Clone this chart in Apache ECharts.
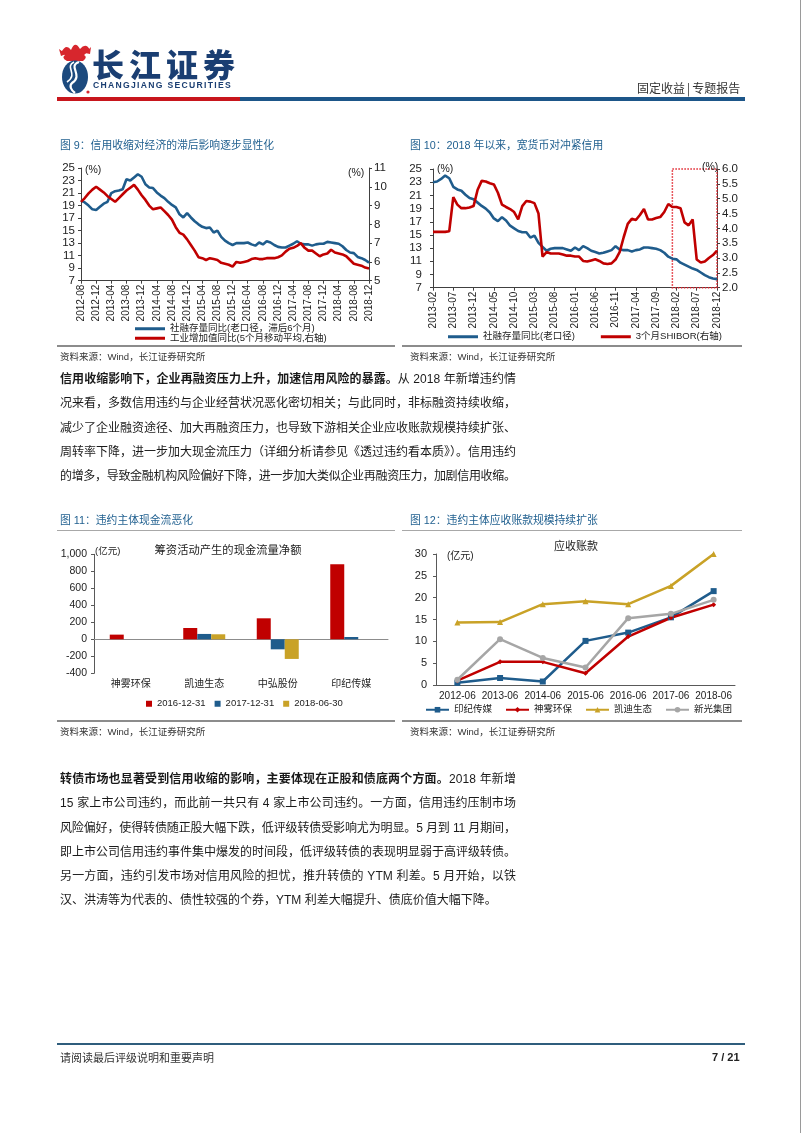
<!DOCTYPE html>
<html><head><meta charset="utf-8">
<script src="https://cdn.jsdelivr.net/npm/echarts@6/dist/echarts.min.js"></script>
<style>
html,body{margin:0;padding:0;background:#fff;}
#page{position:relative;width:802px;height:1133px;overflow:hidden;font-family:"Liberation Sans","Noto Sans CJK SC",sans-serif;color:#222;background:#fff;}
.t{position:absolute;white-space:nowrap;line-height:1;transform:translateY(-50%);}
.body{position:absolute;left:60px;white-space:nowrap;font-size:12px;line-height:16px;color:#1a1a1a;font-family:"Liberation Sans","Noto Sans CJK SC",sans-serif;}
.hl{position:absolute;}
#chart{position:absolute;left:0;top:0;width:802px;height:1133px;}
</style></head>
<body><div id="page"><div id="chart"></div></div>
<script>
// ---------------- DATA ----------------
function months(y, m, n){const a=[];for(let i=0;i<n;i++){a.push(y+'-'+String(m).padStart(2,'0'));m++;if(m>12){m=1;y++;}}return a;}
const c9Months = months(2012, 8, 77);
const c9Social = [19.8,19.5,19.0,18.4,18.3,18.8,19.3,19.6,21.0,21.3,
  21.4,21.6,23.2,23.0,23.5,24.0,23.6,22.4,21.9,21.8,
  21.1,20.6,20.2,19.6,19.1,18.7,17.6,17.1,17.8,17.1,
  16.5,16.0,15.6,15.4,15.5,14.7,15.0,14.0,13.4,13.0,
  12.7,13.0,13.0,13.0,13.1,12.8,12.6,13.1,12.8,13.3,
  13.1,12.7,12.4,12.3,12.3,12.6,12.9,13.3,12.9,12.8,
  12.8,12.6,12.8,12.9,12.9,13.2,13.1,13.0,12.9,12.5,
  11.9,11.5,11.4,10.8,10.6,10.3,9.9];
const c9Industry = [9.2,9.4,9.65,9.85,10.0,9.85,9.7,9.5,9.35,9.2,
  9.4,9.6,9.8,9.95,10.1,9.85,9.55,9.3,9.0,8.8,
  8.85,8.9,8.7,8.5,8.25,7.85,7.55,7.45,7.2,6.9,
  6.6,6.25,6.2,6.1,6.2,6.15,6.1,5.95,5.9,5.85,
  5.75,6.0,5.95,6.0,6.05,6.15,6.2,6.15,6.15,6.2,
  6.2,6.2,6.25,6.35,6.55,6.7,6.75,6.85,7.0,6.75,
  6.6,6.6,6.45,6.3,6.4,6.45,6.65,6.5,6.45,6.4,
  6.3,6.1,5.9,5.85,5.8,5.7,5.65];
const c9LeftTicks = [7,9,11,13,15,17,19,21,23,25];

const c10Months = months(2013, 2, 71);
const c10Social = [23.0,23.1,23.5,24.0,23.6,22.3,21.9,21.7,21.1,20.6,
  20.4,19.9,19.4,19.0,18.4,17.5,17.1,17.7,17.2,16.4,
  16.0,15.6,15.4,15.4,14.6,14.9,13.8,13.2,12.6,12.9,
  13.0,13.0,13.0,12.8,12.6,13.1,12.7,13.3,13.0,12.6,
  12.4,12.2,12.3,12.5,12.7,13.3,12.8,12.7,12.7,12.5,
  12.7,12.8,13.1,13.1,13.0,12.9,12.7,12.3,11.7,11.4,
  11.3,10.8,10.5,10.2,9.9,9.7,9.3,8.9,8.6,8.4,8.3];
const c10Shibor = [3.88,3.88,3.88,3.88,3.9,5.05,4.8,4.68,4.68,4.7,
  4.75,5.3,5.6,5.58,5.52,5.48,5.2,4.8,4.72,4.65,
  4.55,4.3,4.75,4.92,4.9,4.85,4.5,3.05,3.2,3.15,
  3.15,3.15,3.12,3.08,3.08,3.05,3.05,2.9,2.88,2.92,
  2.96,2.9,2.82,2.8,2.82,2.95,3.2,3.7,4.15,4.32,
  4.28,4.45,4.65,4.3,4.3,4.35,4.38,4.55,4.82,4.72,
  4.72,4.68,4.2,4.1,4.3,2.95,2.85,2.88,3.0,3.1,3.25];
const c10LeftTicks = [7,9,11,13,15,17,19,21,23,25];
const c10BoxFrom = '2018-01', c10BoxTo = '2018-12';

const c11Companies = ['神雾环保','凯迪生态','中弘股份','印纪传媒'];
const c11Dates = ['2016-12-31','2017-12-31','2018-06-30'];
const c11V2016 = [55, 133, 247, 882];
const c11V2017 = [null, 63, -118, 27];
const c11V2018 = [null, 59, -231, null];

const c12Years = ['2012-06','2013-06','2014-06','2015-06','2016-06','2017-06','2018-06'];
const c12Names = ['印纪传媒','神雾环保','凯迪生态','新光集团'];
const c12Yinji = [0.5, 1.6, 0.8, 10.1, 12.0, 15.5, 21.5];
const c12Shenwu = [1.0, 5.3, 5.3, 2.7, 11.1, 15.4, 18.4];
const c12Kaidi = [14.3, 14.4, 18.5, 19.2, 18.5, 22.7, 30.0];
const c12Xinguang = [1.2, 10.5, 6.2, 4.0, 15.3, 16.3, 19.5];

// ---------------- PAGE TEXT ----------------
const page = document.getElementById('page');
function T(x, y, text, css){const d=document.createElement('div');d.className='t';d.style.left=x+'px';d.style.top=y+'px';d.innerHTML=text;if(css)d.style.cssText+=css;page.appendChild(d);return d;}
function R(x, y, w, h, color){const d=document.createElement('div');d.className='hl';d.style.cssText+='left:'+x+'px;top:'+y+'px;width:'+w+'px;height:'+h+'px;background:'+color+';';page.appendChild(d);}
function TC(x, y, text, css){const d=T(x,y,text,css);d.style.transform='translate(-50%,-50%)';return d;}

// header
const svg = document.createElement('div');
svg.style.cssText='position:absolute;left:57px;top:41px;width:36px;height:54px;';
svg.innerHTML='<svg width="36" height="54" viewBox="0 0 36 54"><path d="M4 12 Q9 2 14 9 Q18 -1 23 8 Q29 1 33 9 L27 14 Q31 16 26 20 L10 20 Q4 17 8 14 Z" fill="#d7262d"/><path d="M2 8 L9 13 L4 15 Z M34 6 L28 12 L33 13 Z" fill="#d7262d"/><ellipse cx="18" cy="36" rx="13" ry="16.5" fill="#1c4a7e"/><path d="M22 21 C10 25, 27 34, 15 42 C12 45, 14 49, 18 52" stroke="#fff" stroke-width="2.2" fill="none"/><path d="M17 21 C7 26, 22 33, 10 41" stroke="#fff" stroke-width="1.6" fill="none"/><circle cx="31" cy="51" r="1.6" fill="#d7262d"/></svg>';
page.appendChild(svg);
T(92, 63, '长江证券', 'font-family:"Noto Sans CJK SC";font-weight:900;font-size:32px;letter-spacing:5px;color:#1a3e72;');
T(93, 85, 'CHANGJIANG SECURITIES', 'font-family:"Liberation Sans";font-weight:bold;font-size:8.6px;letter-spacing:1.3px;color:#1a3e72;');
T(637, 88, '固定收益<span style="margin:0 2px;">|</span>专题报告', 'font-family:"Noto Sans CJK SC";font-size:12px;color:#333;');
R(57, 97, 183, 4, '#c8161d');
R(240, 97, 505, 4, '#1d5689');
R(800, 0, 1, 1133, '#9a9a9a');

// figure titles
const TITLE = 'font-family:"Liberation Sans","Noto Sans CJK SC";font-size:10.8px;color:#1f5f8f;';
T(60, 145, '图 9：信用收缩对经济的滞后影响逐步显性化', TITLE);
T(410, 145, '图 10：2018 年以来，宽货币对冲紧信用', TITLE);
T(60, 520, '图 11：违约主体现金流恶化', TITLE);
T(410, 520, '图 12：违约主体应收账款规模持续扩张', TITLE);
R(57, 530, 338, 1, '#a8a8a8');
R(402, 530, 340, 1, '#a8a8a8');
// bottom rules + sources
R(57, 344.5, 338, 2, '#8c8c8c'); R(402, 344.5, 340, 2, '#8c8c8c');
R(57, 719.5, 338, 2, '#8c8c8c'); R(402, 719.5, 340, 2, '#8c8c8c');
const SRC = 'font-family:"Liberation Sans","Noto Sans CJK SC";font-size:9.5px;color:#333;';
T(60, 357, '资料来源：Wind，长江证券研究所', SRC);
T(410, 357, '资料来源：Wind，长江证券研究所', SRC);
T(60, 732, '资料来源：Wind，长江证券研究所', SRC);
T(410, 732, '资料来源：Wind，长江证券研究所', SRC);

// chart-internal text
const UNIT = 'font-family:"Liberation Sans","Noto Sans CJK SC";font-size:10.5px;color:#222;';
T(85, 169, '(%)', UNIT); T(348, 172, '(%)', UNIT);
T(437, 168, '(%)', UNIT); T(702, 166, '(%)', UNIT);
T(95, 551, '(亿元)', UNIT + 'font-size:9.5px;');
T(447, 556, '(亿元)', UNIT + 'font-size:10px;');
TC(228, 550, '筹资活动产生的现金流量净额', 'font-family:"Noto Sans CJK SC";font-size:11.3px;color:#222;');
TC(576, 545, '应收账款', 'font-family:"Noto Sans CJK SC";font-size:11px;color:#222;');

// body text
function line(y, html, justify){
  const d=document.createElement('div');d.className='body';d.style.top=(y-8)+'px';d.innerHTML=html;page.appendChild(d);
  if(justify){const w=d.getBoundingClientRect().width;const n=Array.from(d.textContent).length;d.style.letterSpacing=((456-w)/(n-1))+'px';}
}
const B = s => '<b style="font-weight:bold;">'+s+'</b>';
const p1 = [
  B('信用收缩影响下，企业再融资压力上升，加速信用风险的暴露。')+'从 2018 年新增违约情',
  '况来看，多数信用违约与企业经营状况恶化密切相关；与此同时，非标融资持续收缩，',
  '减少了企业融资途径、加大再融资压力，也导致下游相关企业应收账款规模持续扩张、',
  '周转率下降，进一步加大现金流压力（详细分析请参见《透过违约看本质》）。信用违约',
  '的增多，导致金融机构风险偏好下降，进一步加大类似企业再融资压力，加剧信用收缩。'];
const p1y = [379, 403, 428, 452, 476];
p1.forEach((s,i)=>line(p1y[i], s, true));
const p2 = [
  B('转债市场也显著受到信用收缩的影响，主要体现在正股和债底两个方面。')+'2018 年新增',
  '15 家上市公司违约，而此前一共只有 4 家上市公司违约。一方面，信用违约压制市场',
  '风险偏好，使得转债随正股大幅下跌，低评级转债受影响尤为明显。5 月到 11 月期间，',
  '即上市公司信用违约事件集中爆发的时间段，低评级转债的表现明显弱于高评级转债。',
  '另一方面，违约引发市场对信用风险的担忧，推升转债的 YTM 利差。5 月开始，以铁',
  '汉、洪涛等为代表的、债性较强的个券，YTM 利差大幅提升、债底价值大幅下降。'];
const p2y = [779, 803, 828, 852, 876, 900];
p2.forEach((s,i)=>line(p2y[i], s, i<5));

// footer
R(57, 1043, 688, 1.5, '#2f5d7c');
T(60, 1057, '请阅读最后评级说明和重要声明', 'font-family:"Noto Sans CJK SC";font-size:11px;color:#333;');
T(712, 1057, '7 / 21', 'font-family:"Liberation Sans";font-weight:bold;font-size:11px;color:#222;');

// ---------------- CHARTS ----------------
const FONT = '"Liberation Sans","Noto Sans CJK SC",sans-serif';
const BLUE = '#1f5c8c', RED = '#c00000', GOLD = '#c9a227', GRAY = '#a6a6a6';
const AX = '#404040';
const lab = (o) => Object.assign({color:'#222', fontFamily:FONT}, o);

const chart = echarts.init(document.getElementById('chart'), null, {renderer:'canvas'});
const option = {
  animation:false,
  backgroundColor:'transparent',
  textStyle:{fontFamily:FONT},
  grid:[
    {left:81, top:168, width:288, height:112.7},
    {left:433, top:169, width:284, height:118.7},
    {left:94, top:554.3, width:294, height:119},
    {left:436, top:554, width:299, height:131}
  ],
  xAxis:[
    {gridIndex:0, type:'category', data:c9Months, boundaryGap:false,
     axisLine:{lineStyle:{color:AX}}, axisTick:{interval:3, length:3, lineStyle:{color:AX}},
     axisLabel:lab({interval:3, rotate:90, fontSize:10, margin:4})},
    {gridIndex:1, type:'category', data:c10Months, boundaryGap:false,
     axisLine:{lineStyle:{color:AX}}, axisTick:{interval:4, length:3, lineStyle:{color:AX}},
     axisLabel:lab({interval:4, rotate:90, fontSize:10, margin:4})},
    {gridIndex:2, type:'category', data:c11Companies,
     axisLine:{onZero:true, lineStyle:{color:'#8c8c8c'}}, axisTick:{length:4, lineStyle:{color:'#8c8c8c'}},
     axisLabel:lab({fontSize:10, margin:6, interval:0})},
    {gridIndex:3, type:'category', data:c12Years,
     axisLine:{lineStyle:{color:'#595959'}}, axisTick:{length:4, lineStyle:{color:'#595959'}},
     axisLabel:lab({fontSize:10, margin:6, interval:0})}
  ],
  yAxis:[
    {gridIndex:0, type:'value', position:'left', min:7, max:25, interval:2, splitLine:{show:false},
     axisLine:{show:true, lineStyle:{color:AX}}, axisTick:{show:true, length:3, customValues:c9LeftTicks, lineStyle:{color:AX}},
     axisLabel:lab({customValues:c9LeftTicks, fontSize:11.5, margin:6})},
    {gridIndex:0, type:'value', position:'right', min:5, max:11, interval:1, splitLine:{show:false},
     axisLine:{show:true, lineStyle:{color:AX}}, axisTick:{show:true, length:3, lineStyle:{color:AX}},
     axisLabel:lab({fontSize:11.5, margin:5})},
    {gridIndex:1, type:'value', position:'left', min:7, max:25, interval:2, splitLine:{show:false},
     axisLine:{show:true, lineStyle:{color:AX}}, axisTick:{show:true, length:3, customValues:c10LeftTicks, lineStyle:{color:AX}},
     axisLabel:lab({customValues:c10LeftTicks, fontSize:11.5, margin:11})},
    {gridIndex:1, type:'value', position:'right', min:2, max:6, interval:0.5, splitLine:{show:false},
     axisLine:{show:true, lineStyle:{color:AX}}, axisTick:{show:true, length:3, lineStyle:{color:AX}},
     axisLabel:lab({fontSize:11.5, margin:5, formatter:v=>v.toFixed(1)})},
    {gridIndex:2, type:'value', min:-400, max:1000, interval:200, splitLine:{show:false},
     axisLine:{show:true, lineStyle:{color:'#595959'}}, axisTick:{show:true, length:3, lineStyle:{color:'#595959'}},
     axisLabel:lab({fontSize:10.5, margin:7, formatter:v=>v.toLocaleString('en-US')})},
    {gridIndex:3, type:'value', min:0, max:30, interval:5, splitLine:{show:false},
     axisLine:{show:true, lineStyle:{color:'#595959'}}, axisTick:{show:true, length:3, lineStyle:{color:'#595959'}},
     axisLabel:lab({fontSize:11, margin:9})}
  ],
  legend:[
    {data:['社融存量同比(老口径，滞后6个月)'], left:130, top:319,
     icon:'rect', itemWidth:30, itemHeight:3, selectedMode:false,
     textStyle:{fontSize:9.5, color:'#222', fontFamily:FONT}},
    {data:['工业增加值同比(5个月移动平均,右轴)'], left:130, top:328.5,
     icon:'rect', itemWidth:30, itemHeight:3, selectedMode:false,
     textStyle:{fontSize:9.5, color:'#222', fontFamily:FONT}},
    {data:['社融存量同比(老口径)','3个月SHIBOR(右轴)'], orient:'horizontal', left:443, top:327,
     icon:'rect', itemWidth:30, itemHeight:3, itemGap:26, selectedMode:false,
     textStyle:{fontSize:9.5, color:'#222', fontFamily:FONT}},
    {data:c11Dates, left:141, top:694, icon:'rect', itemWidth:6, itemHeight:6, itemGap:9, selectedMode:false,
     textStyle:{fontSize:9.5, color:'#222', fontFamily:FONT}},
    {data:c12Names, left:420, top:700, itemWidth:23, itemHeight:7, itemGap:13, selectedMode:false,
     textStyle:{fontSize:9.5, color:'#222', fontFamily:FONT}}
  ],
  series:[
    {name:'社融存量同比(老口径，滞后6个月)', type:'line', xAxisIndex:0, yAxisIndex:0, data:c9Social,
     symbol:'none', lineStyle:{width:2.6, color:BLUE}, itemStyle:{color:BLUE}},
    {name:'工业增加值同比(5个月移动平均,右轴)', type:'line', xAxisIndex:0, yAxisIndex:1, data:c9Industry,
     symbol:'none', lineStyle:{width:2.6, color:RED}, itemStyle:{color:RED}},
    {name:'社融存量同比(老口径)', type:'line', xAxisIndex:1, yAxisIndex:2, data:c10Social,
     symbol:'none', lineStyle:{width:2.6, color:BLUE}, itemStyle:{color:BLUE}},
    {name:'3个月SHIBOR(右轴)', type:'line', xAxisIndex:1, yAxisIndex:3, data:c10Shibor,
     symbol:'none', lineStyle:{width:2.6, color:RED}, itemStyle:{color:RED},
     markArea:{silent:true, itemStyle:{color:'rgba(0,0,0,0)', borderColor:'#e0202a', borderWidth:1.5, borderType:'dotted'},
       data:[[{xAxis:c10BoxFrom, yAxis:6.0},{xAxis:c10BoxTo, yAxis:2.0}]]}},
    {name:c11Dates[0], type:'bar', xAxisIndex:2, yAxisIndex:4, data:c11V2016, barWidth:14, barGap:'0%', itemStyle:{color:RED}},
    {name:c11Dates[1], type:'bar', xAxisIndex:2, yAxisIndex:4, data:c11V2017, barWidth:14, barGap:'0%', itemStyle:{color:BLUE}},
    {name:c11Dates[2], type:'bar', xAxisIndex:2, yAxisIndex:4, data:c11V2018, barWidth:14, barGap:'0%', itemStyle:{color:GOLD}},
    {name:c12Names[0], type:'line', xAxisIndex:3, yAxisIndex:5, data:c12Yinji, symbol:'rect', symbolSize:6,
     lineStyle:{width:2.5, color:BLUE}, itemStyle:{color:BLUE}},
    {name:c12Names[1], type:'line', xAxisIndex:3, yAxisIndex:5, data:c12Shenwu, symbol:'diamond', symbolSize:5,
     lineStyle:{width:2.5, color:RED}, itemStyle:{color:RED}},
    {name:c12Names[2], type:'line', xAxisIndex:3, yAxisIndex:5, data:c12Kaidi, symbol:'triangle', symbolSize:6,
     lineStyle:{width:2.5, color:GOLD}, itemStyle:{color:GOLD}},
    {name:c12Names[3], type:'line', xAxisIndex:3, yAxisIndex:5, data:c12Xinguang, symbol:'circle', symbolSize:6,
     lineStyle:{width:2.5, color:GRAY}, itemStyle:{color:GRAY}}
  ]
};
chart.setOption(option);
</script>
</body></html>
